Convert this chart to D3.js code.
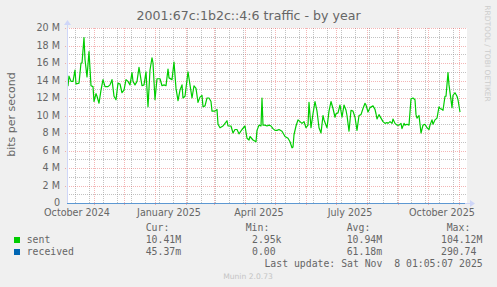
<!DOCTYPE html>
<html>
<head>
<meta charset="utf-8">
<script src="https://cdn.jsdelivr.net/npm/d3@7"></script>
<style>
  body { margin: 0; background: #f0f0f0; }
  svg { display: block; }
</style>
</head>
<body>
<div id="chart"></div>
<script>
const sentDay = [0, 1, 2, 4, 6, 8, 9, 12, 14, 15, 17, 18, 20, 22, 24, 26, 27, 29, 30, 32,
  34, 36, 38, 41, 43, 45, 47, 49, 51, 53, 55, 57, 59, 61, 63, 65, 66, 68, 70, 72,
  75, 77, 79, 81, 83, 85, 86, 88, 90, 93, 95, 97, 99, 101, 102, 105, 107, 109, 111, 113,
  115, 116, 118, 121, 123, 125, 127, 129, 131, 133, 135, 136, 138, 140, 142, 144, 145, 148, 150, 151,
  153, 156, 158, 160, 161, 164, 166, 168, 170, 172, 175, 178, 180, 182, 183, 186, 189, 190, 192, 194,
  195, 196, 198, 200, 202, 204, 206, 208, 210, 212, 215, 218, 221, 223, 225, 226, 227, 229, 231, 233,
  235, 237, 239, 241, 242, 244, 246, 248, 250, 252, 254, 256, 257, 260, 262, 264, 266, 268, 269, 271,
  273, 275, 277, 279, 280, 282, 284, 286, 288, 290, 292, 294, 296, 298, 299, 301, 303, 306, 308, 309,
  310, 312, 314, 316, 318, 320, 321, 323, 325, 326, 328, 330, 332, 334, 335, 337, 338, 340, 342, 344,
  346, 348, 349, 350, 352, 354, 356, 358, 360, 362, 363, 365, 366, 368, 370, 372, 373, 375, 376, 378,
  379, 381, 382, 385, 386, 388, 390, 391, 393, 395, 396, 398];
const sentMbit = [13.4, 13.4, 14.5, 13.9, 13.9, 15.2, 13.6, 13.7, 16.0, 16.0, 18.9, 16.4, 14.4, 17.3, 13.4, 13.3, 11.6, 12.5, 12.2, 11.4,
  12.9, 14.1, 13.3, 13.3, 13.5, 14.1, 12.2, 11.8, 13.7, 13.6, 12.6, 12.9, 14.1, 13.9, 13.5, 14.9, 13.9, 13.5, 13.9, 15.5,
  13.4, 13.5, 15.0, 11.0, 15.2, 16.6, 16.0, 11.8, 14.2, 14.2, 13.4, 13.5, 13.4, 15.3, 14.3, 14.1, 16.1, 13.1, 11.7, 12.9,
  13.5, 12.0, 12.2, 15.0, 13.5, 12.0, 13.4, 13.1, 11.5, 12.1, 12.3, 11.0, 11.1, 12.0, 12.0, 11.6, 10.5, 10.5, 10.7, 9.0,
  8.6, 8.8, 9.1, 9.4, 8.8, 8.8, 8.0, 8.4, 8.4, 7.9, 8.4, 8.8, 7.4, 7.2, 7.6, 7.2, 7.0, 8.3, 8.9, 8.8,
  12.0, 8.9, 8.9, 8.8, 8.9, 8.8, 8.5, 8.3, 8.3, 8.4, 8.2, 7.6, 7.4, 7.0, 6.3, 6.4, 7.8, 8.8, 9.5, 9.3,
  9.1, 9.3, 8.6, 8.9, 11.5, 8.6, 10.2, 11.6, 10.5, 8.6, 8.0, 10.0, 9.5, 8.6, 10.5, 11.6, 10.8, 9.8, 10.2, 10.3,
  11.2, 9.8, 11.2, 10.6, 10.0, 8.2, 10.6, 10.5, 9.8, 8.3, 10.0, 10.1, 10.8, 11.4, 11.2, 10.4, 10.9, 11.1, 10.7, 10.2,
  9.6, 10.1, 9.7, 9.3, 9.1, 9.2, 9.1, 9.3, 9.1, 9.6, 9.1, 8.9, 8.9, 9.1, 8.5, 9.1, 8.9, 9.0, 8.9, 11.9,
  12.0, 11.8, 10.1, 9.7, 10.0, 8.0, 8.9, 9.0, 8.6, 8.4, 8.9, 9.5, 9.0, 9.5, 9.7, 11.0, 10.8, 10.7, 10.6, 12.2,
  12.2, 14.9, 13.5, 10.9, 12.3, 12.6, 12.2, 11.8, 10.4];
// received stays at a few millibits, flat on the zero line
const receivedDay = [0, 398];
const receivedMbit = [0, 0];

const yTicks = [0, 2, 4, 6, 8, 10, 12, 14, 16, 18, 20];
const yMinorTicks = [1, 3, 5, 7, 9, 11, 13, 15, 17, 19];

const legendNames = ["sent", "received"];
const legendColors = ["#00cc00", "#0066b3"];
const curValues = ["10.41M", "45.37m"];
const minValues = ["2.95k", "0.00"];
const avgValues = ["10.94M", "61.18m"];
const maxValues = ["104.12M", "290.74"];

// graph covers 400 days, one pixel per day
const start = new Date(2024, 9, 5);
const end = d3.timeDay.offset(start, 400);

const svgWidth = 497;
const svgHeight = 287;
const plot = { left: 67, right: 467, top: 28, bottom: 203 };

const svg = d3.select("#chart").append("svg")
    .attr("width", svgWidth)
    .attr("height", svgHeight)
    .style("font-family", "'DejaVu Sans', sans-serif");

svg.append("rect")
    .attr("width", svgWidth)
    .attr("height", svgHeight)
    .attr("fill", "#f0f0f0");

const x = d3.scaleTime()
    .domain([start, end])
    .range([plot.left, plot.right]);

const y = d3.scaleLinear()
    .domain([0, 20])
    .range([plot.bottom, plot.top]);

const px = v => Math.round(v) + 0.5;

// canvas
svg.append("rect")
    .attr("x", plot.left)
    .attr("y", plot.top)
    .attr("width", plot.right - plot.left)
    .attr("height", plot.bottom - plot.top)
    .attr("fill", "#ffffff");

const gridG = svg.append("g").attr("stroke-dasharray", "1,1").attr("stroke-width", 1);
const minorColor = "rgba(143,143,143,0.55)";
const majorColor = "rgba(230,90,90,0.45)";

// minor grid: every other sunday, then 1M steps
const minorDates = d3.timeDay.range(new Date(2024, 9, 13), end, 14);
gridG.selectAll(".vminor")
    .data(minorDates)
    .join("line")
    .attr("x1", d => px(x(d))).attr("x2", d => px(x(d)))
    .attr("y1", plot.top).attr("y2", plot.bottom)
    .attr("stroke", minorColor);

gridG.selectAll(".hminor")
    .data(yMinorTicks)
    .join("line")
    .attr("x1", plot.left).attr("x2", plot.right)
    .attr("y1", d => px(y(d))).attr("y2", d => px(y(d)))
    .attr("stroke", minorColor);

// major grid: month starts, 2M steps
const monthDates = d3.timeMonth.range(start, end);
gridG.selectAll(".vmajor")
    .data(monthDates)
    .join("line")
    .attr("x1", d => px(x(d))).attr("x2", d => px(x(d)))
    .attr("y1", plot.top).attr("y2", plot.bottom + 2)
    .attr("stroke", majorColor);

gridG.selectAll(".hmajor")
    .data(yTicks.filter(d => d > 0))
    .join("line")
    .attr("x1", plot.left - 2).attr("x2", plot.right)
    .attr("y1", d => px(y(d))).attr("y2", d => px(y(d)))
    .attr("stroke", majorColor);

// y labels
svg.append("g").selectAll("text")
    .data(yTicks)
    .join("text")
    .attr("x", 60)
    .attr("y", d => y(d))
    .attr("dy", "0.35em")
    .attr("text-anchor", "end")
    .attr("font-size", "9.6px")
    .attr("fill", "#666666")
    .text(d => d === 0 ? "0" : `${d} M`);

// x labels, centred half a month after each quarter start
const labelDates = d3.timeMonth.every(3).range(d3.timeMonth.floor(start), end)
    .map(d => d3.timeDay.offset(d, 14))
    .filter(d => d >= start && d <= end);
svg.append("g").selectAll("text")
    .data(labelDates)
    .join("text")
    .attr("x", d => x(d))
    .attr("y", 216)
    .attr("text-anchor", "middle")
    .attr("font-size", "9.6px")
    .attr("fill", "#666666")
    .text(d => d3.timeFormat("%B %Y")(d));

// series
const sentLine = d3.line()
    .x(d => x(d3.timeDay.offset(start, d[0])))
    .y(d => y(d[1]));

svg.append("path")
    .datum(sentDay.map((d, i) => [d, sentMbit[i]]))
    .attr("d", sentLine)
    .attr("fill", "none")
    .attr("stroke", "#00cc00")
    .attr("stroke-width", 1.2)
    .attr("stroke-linejoin", "round");

// axes with arrows
const axisColor = "#cfd6f8";
svg.append("line")
    .attr("x1", plot.left + 0.5).attr("x2", plot.left + 0.5)
    .attr("y1", plot.bottom).attr("y2", plot.top - 4)
    .attr("stroke", axisColor);
svg.append("path")
    .attr("d", `M${plot.left - 3},${plot.top - 3} L${plot.left + 4},${plot.top - 3} L${plot.left + 0.5},${plot.top - 8} Z`)
    .attr("fill", axisColor);
svg.append("line")
    .attr("x1", plot.left).attr("x2", plot.right + 4)
    .attr("y1", plot.bottom + 0.5).attr("y2", plot.bottom + 0.5)
    .attr("stroke", axisColor);
svg.append("path")
    .attr("d", `M${plot.right + 3},${plot.bottom - 3} L${plot.right + 3},${plot.bottom + 4} L${plot.right + 8},${plot.bottom + 0.5} Z`)
    .attr("fill", axisColor);

svg.append("path")
    .datum(receivedDay.map((d, i) => [d, receivedMbit[i]]))
    .attr("d", d3.line()
        .x(d => x(d3.timeDay.offset(start, d[0])))
        .y(d => y(d[1]) + 0.5))
    .attr("fill", "none")
    .attr("stroke", "#0066b3")
    .attr("stroke-opacity", 0.55);

// title and side texts
svg.append("text")
    .attr("x", 248.5)
    .attr("y", 19.5)
    .attr("text-anchor", "middle")
    .attr("font-size", "12.6px")
    .attr("fill", "#666666")
    .text("2001:67c:1b2c::4:6 traffic - by year");

svg.append("text")
    .attr("transform", "translate(15, 114.5) rotate(-90)")
    .attr("text-anchor", "middle")
    .attr("font-size", "11px")
    .attr("fill", "#666666")
    .text("bits per second");

svg.append("text")
    .attr("transform", "translate(485, 53.5) rotate(90)")
    .attr("text-anchor", "middle")
    .attr("font-size", "7.5px")
    .attr("fill", "#cccccc")
    .text("RRDTOOL / TOBI OETIKER");

// legend
const legend = svg.append("g")
    .style("font-family", "'DejaVu Sans Mono', monospace")
    .attr("font-size", "9.8px")
    .attr("fill", "#666666");

const colX = [145.7, 245.7, 346.7, 446.7];
const valX = [145.7, 252, 346.7, 441];
["Cur:", "Min:", "Avg:", "Max:"].forEach((h, i) => {
    legend.append("text").attr("x", colX[i]).attr("y", 231).text(h);
});

const rows = legendNames.map((name, i) => ({
    name: name,
    color: legendColors[i],
    vals: [curValues[i], minValues[i], avgValues[i], maxValues[i]]
}));

const rowG = legend.selectAll(".row")
    .data(rows)
    .join("g")
    .attr("transform", (d, i) => `translate(0, ${243 + i * 12})`);

rowG.append("rect")
    .attr("x", 14).attr("y", -6)
    .attr("width", 6).attr("height", 6)
    .attr("fill", d => d.color);

rowG.append("text")
    .attr("x", 26.7)
    .text(d => d.name);

rowG.selectAll(".val")
    .data(d => d.vals)
    .join("text")
    .attr("x", (d, i) => valX[i])
    .text(d => d);

legend.append("text")
    .attr("x", 482.7)
    .attr("y", 266.5)
    .attr("text-anchor", "end")
    .attr("xml:space", "preserve")
    .style("white-space", "pre")
    .text("Last update: Sat Nov  8 01:05:07 2025");

svg.append("text")
    .attr("x", 248)
    .attr("y", 279)
    .attr("text-anchor", "middle")
    .attr("font-size", "7.6px")
    .attr("fill", "#c4c4c4")
    .text("Munin 2.0.73");
</script>
</body>
</html>
